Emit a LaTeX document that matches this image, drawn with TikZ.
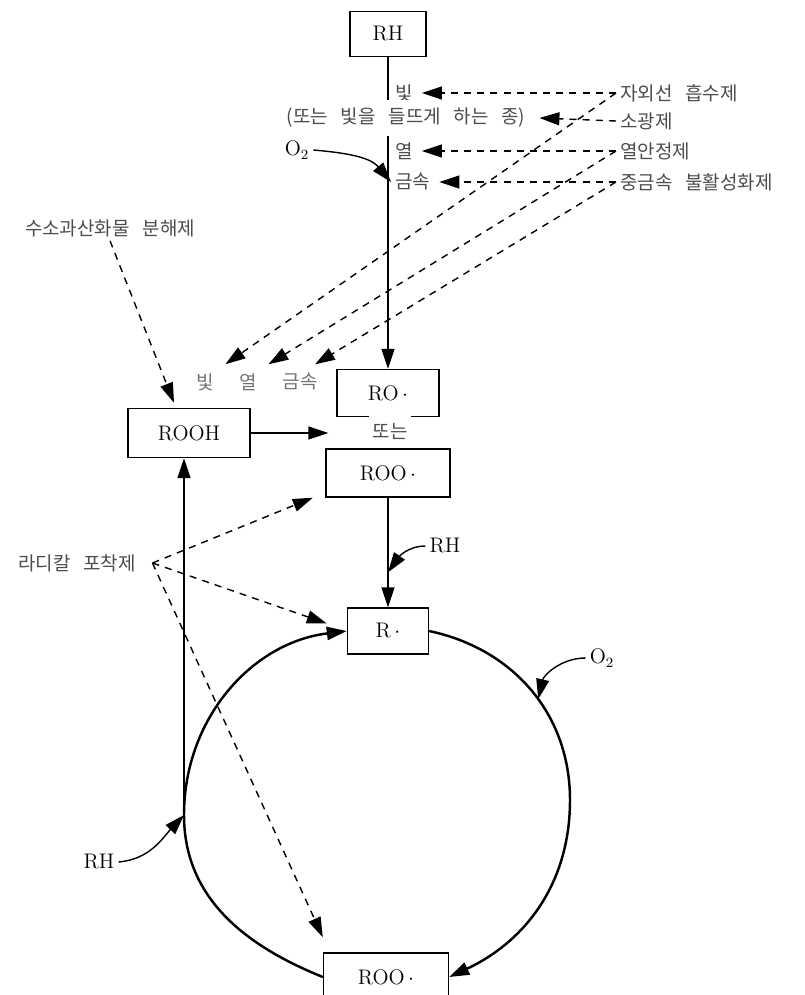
\documentclass[tikz,border=0pt]{standalone}
\usepackage{fontspec}
\usetikzlibrary{arrows.meta}
\newfontfamily\krfont[WordSpace=3]{Noto Sans CJK KR}

\begin{document}
\begin{tikzpicture}[x=0.02cm, y=0.02cm, line width=0.8pt,
    box/.style={draw, inner sep=0pt, minimum height=0.94cm, font=\large},
    chem/.style={font=\large, inner sep=2pt},
    lbl/.style={font=\krfont\fontsize{10.8}{12}\selectfont, text=black!70, inner sep=2pt},
    arr/.style={-{Triangle[length=4mm,width=2.6mm]}},
    dasharr/.style={arr, dash pattern=on 4pt off 3.5pt},
    cyc/.style={line width=1.4pt}]
    \useasboundingbox (0,0) rectangle (805,-995);
    % Boxes
    \node[box, minimum width=1.52cm, minimum height=0.9cm] (rh) at (388,-34) {RH};
    \node[box, minimum width=2.04cm] (ro) at (388,-393) {RO\,$\cdot$};
    \node[box, minimum width=2.44cm, minimum height=0.98cm] (rooh) at (189,-433) {ROOH};
    \node[box, minimum width=2.48cm, minimum height=0.96cm] (roo) at (388,-473) {ROO\,$\cdot$};
    \node[box, minimum width=1.62cm, minimum height=0.92cm] (r) at (388,-631) {R\,$\cdot$};
    \node[box, minimum width=2.5cm, minimum height=0.96cm] (roo2) at (386,-977) {ROO\,$\cdot$};
    \draw[arr] (rh) -- (ro);
    % Labels
    \node[lbl, anchor=west] (light) at (391,-93) {빛};
    \node[lbl, fill=white, inner ysep=5pt] (excited) at (406,-118) {(또는 빛을 들뜨게 하는 종)};
    \node[lbl, anchor=west] (heat) at (391,-151) {열};
    \node[lbl, anchor=west] (metal) at (391,-182) {금속};
    \node[chem] (o2a) at (297,-150) {O$_2$};
    \node[lbl, anchor=west] (uv) at (616,-93) {자외선 흡수제};
    \node[lbl, anchor=west] (quench) at (616,-121) {소광제};
    \node[lbl, anchor=west] (stab) at (616,-151) {열안정제};
    \node[lbl, anchor=west] (deact) at (616,-182) {중금속 불활성화제};
    \node[lbl] (hpd) at (110,-228) {수소과산화물 분해제};
    \node[lbl, text=black!55] (lbit) at (205,-382) {빛};
    \node[lbl, text=black!55] (lheat) at (248,-382) {열};
    \node[lbl, text=black!55] (lmetal) at (300,-382) {금속};
    \node[lbl, fill=white, inner ysep=4.6pt] (orr) at (390,-431) {또는};
    \node[chem] (rha) at (445,-546) {RH};
    \node[lbl] (trap) at (77,-563) {라디칼 포착제};
    \node[chem] (o2b) at (602,-658) {O$_2$};
    \node[chem] (rhb) at (99,-862) {RH};
    % Initiation
    \draw[arr] (o2a.east) to[out=-5, in=130] (metal.west);
    \draw[dasharr] (uv.west) -- ([xshift=1mm]light.east);
    \draw[dasharr] (quench.west) -- ([xshift=2mm]excited.east);
    \draw[dasharr] (stab.west) -- ([xshift=1mm]heat.east);
    \draw[dasharr] (deact.west) -- ([xshift=1mm]metal.east);
    \draw[dasharr] (uv.west) -- ([xshift=1.5mm,yshift=1mm]lbit.north east);
    \draw[dasharr] (stab.west) -- ([xshift=1.5mm,yshift=1mm]lheat.north east);
    \draw[dasharr] (deact.west) -- ([xshift=3mm,yshift=1mm]lmetal.north);
    \draw[dasharr] (hpd.south) -- ([xshift=-3mm,yshift=1mm]rooh.north);
    \draw[arr] (rooh.east) -- ([xshift=-8mm]orr.west |- rooh.east);
    \draw[arr] (roo) -- (r);
    \draw[arr] (rha.west) to[out=180, in=55] ([yshift=7mm]r.north);
    % Radical traps
    \coordinate (fan) at ([xshift=2.5mm]trap.east);
    \draw[dasharr] (fan) -- ([xshift=-2.5mm]roo.south west);
    \draw[dasharr] (fan) -- ([xshift=-4mm,yshift=1.5mm]r.west);
    \draw[dasharr] (fan) -- ([yshift=3mm]roo2.north west);
    % Cycle
    \coordinate (lft) at (184,-815);
    \coordinate (rgt) at (570,-800);
    \draw[cyc, arr] (r.east) to[out=-12, in=90] node[coordinate, pos=0.55] (o2in) {} (rgt)
        to[out=-90, in=25] (roo2.east);
    \draw[cyc, arr] (roo2.west) to[out=158, in=-90] (lft) to[out=90, in=187] (r.west);
    \draw[arr] (o2b.west) to[out=180, in=77] (o2in);
    \draw[arr] (rhb.east) to[out=5, in=-133] (lft);
    \draw[arr] (lft) -- (lft |- rooh.south);
\end{tikzpicture}
\end{document}
